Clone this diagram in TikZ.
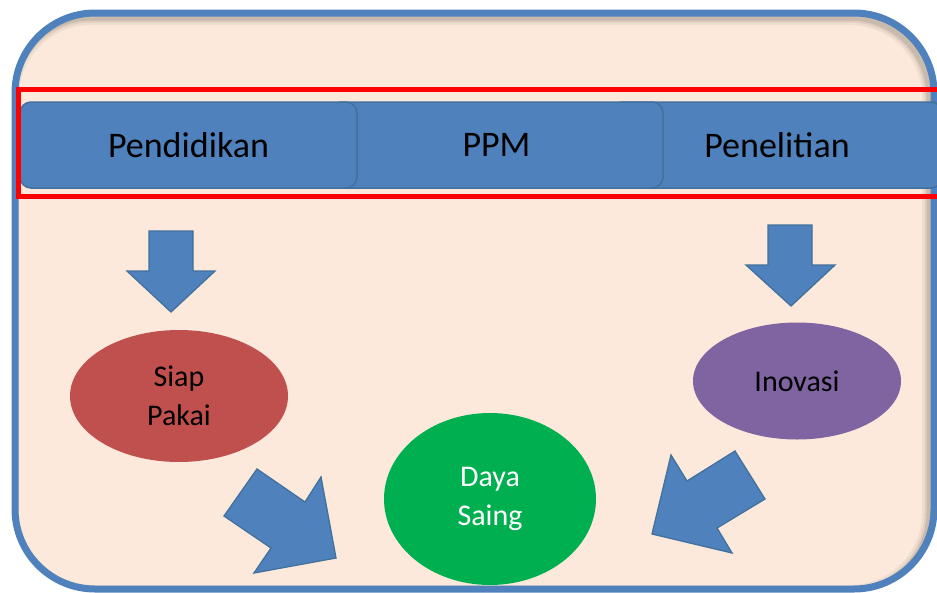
\documentclass[tikz,border=0pt]{standalone}
\usepackage{fontspec}
\setmainfont{Carlito}
\usetikzlibrary{shapes.geometric}
\definecolor{bgpeach}{HTML}{FCE9DB}
\definecolor{offblue}{HTML}{4F81BD}
\definecolor{darkblue}{HTML}{41719C}
\definecolor{ovred}{HTML}{C0504D}
\definecolor{ovpurple}{HTML}{8064A2}
\definecolor{ovgreen}{HTML}{00B050}
\begin{document}
\begin{tikzpicture}[x=1pt,y=-1pt,
  topbox/.style={draw=darkblue, fill=offblue, rounded corners=11pt, line width=1.5pt,
    minimum height=86pt, inner sep=0pt, font=\fontsize{36}{43}\selectfont},
  blockarrow/.style={draw=darkblue, fill=offblue, line width=1.3pt, line join=miter},
  oval/.style={ellipse, inner sep=0pt, align=center, font=\fontsize{30}{39}\selectfont}]
\useasboundingbox (0,0) rectangle (937,592);
\clip (0,0) rectangle (937,592);
% outer frame
\fill[bgpeach, rounded corners=80pt] (15,13) rectangle (934,589);
% inner shadow
\begin{scope}
  \clip[rounded corners=80pt] (15,13) rectangle (934,589);
  \foreach \w/\o in {16/0.05, 11/0.07, 7/0.09} {
    \draw[black, opacity=\o, line width=\w pt, rounded corners=80pt] (11,17) rectangle (930,593);
  }
\end{scope}
\draw[draw=offblue, line width=7pt, rounded corners=80pt] (15,13) rectangle (934,589);
% top boxes (back to front)
\node[topbox, minimum width=330pt] (pen) at (777,145) {Penelitian};
\node[topbox, minimum width=333pt] (ppm) at (496.5,145) {PPM};
\node[topbox, minimum width=337pt] (pend) at (188.5,145) {Pendidikan};
% red frame
\draw[red, line width=5pt] (18,89) rectangle (945,196);
% ellipses
\node[oval, fill=ovred, minimum width=218pt, minimum height=132pt] (siap) at (179,396) {Siap\\Pakai};
\node[oval, fill=ovpurple, minimum width=208pt, minimum height=117pt] (inov) at (797,381) {Inovasi};
\node[oval, fill=ovgreen, text=white, minimum width=212pt, minimum height=172pt] (daya) at (490,499) {Daya\\Saing};
% down arrows
\draw[blockarrow] (149,231) -- (193,231) -- (193,271) -- (215,271) -- (171,312) -- (127,271) -- (149,271) -- cycle;
\draw[blockarrow] (768,225) -- (812,225) -- (812,265) -- (835,265) -- (791,306) -- (746,265) -- (768,265) -- cycle;
% diagonal arrows
\draw[blockarrow] (257,469) -- (224,516) -- (271,548) -- (254,573) -- (336,558) -- (321,477) -- (305,502) -- cycle;
\draw[blockarrow] (735,451) -- (765,499) -- (717,528) -- (732,553) -- (652,534) -- (671,455) -- (687,481) -- cycle;
\end{tikzpicture}
\end{document}
